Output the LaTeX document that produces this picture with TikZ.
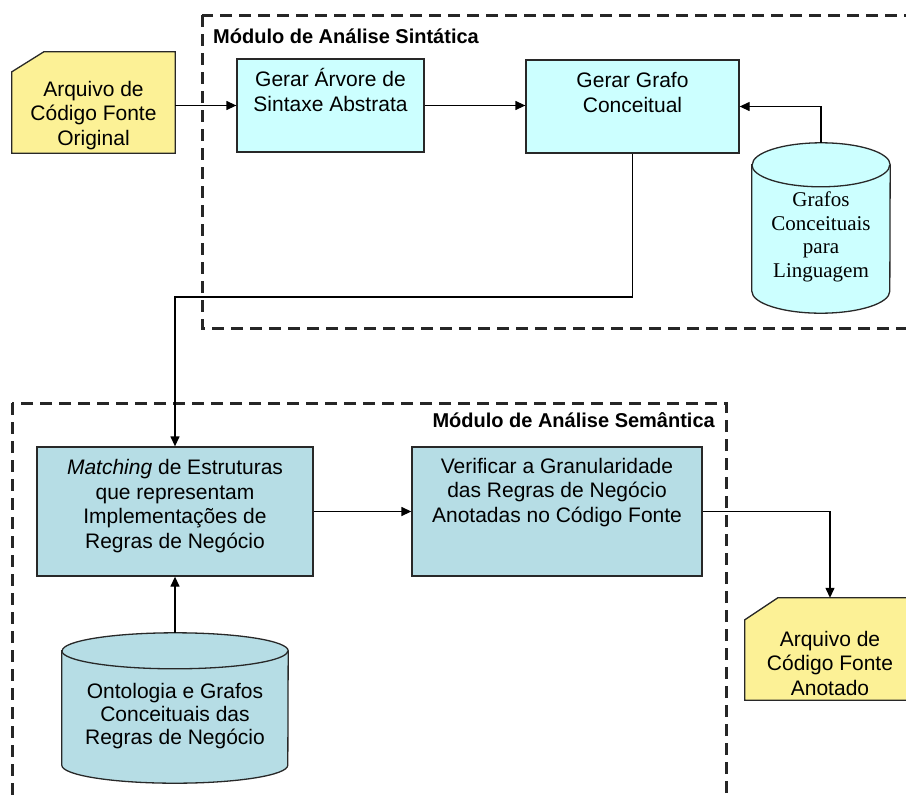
\documentclass[tikz,border=0pt]{standalone}
\usepackage{fontspec}
\setmainfont{Liberation Sans}
\newfontfamily\timesfont{Liberation Serif}
\usepackage{tikz}
\usetikzlibrary{arrows.meta}
\definecolor{procblue}{RGB}{204,255,255}
\definecolor{semblue}{RGB}{182,221,229}
\definecolor{docyellow}{RGB}{252,241,150}
\definecolor{edgegray}{RGB}{40,40,40}

\begin{document}
\begin{tikzpicture}[x=1pt,y=-1pt]
    \tikzset{
        flow/.style = {draw=black, line width=1.3pt, -{Triangle[length=10pt,width=9pt]}},
        module/.style = {draw=black!85, line width=3pt, dash pattern=on 12pt off 7pt},
        modtitle/.style = {font=\fontsize{20}{24}\selectfont\bfseries, inner sep=0pt},
        procbox/.style = {draw=edgegray, line width=1.3pt, rectangle, inner sep=0pt},
        frame/.style = {rectangle, inner sep=0pt},
        outline/.style = {draw=edgegray, line width=1.3pt},
        boxtext/.style = {anchor=base, align=center, inner sep=0pt, font=\fontsize{21}{24.5}\selectfont}
    }
    \clip (0,0) rectangle (906,796);

    % modules
    \draw[module] (202,15) rectangle (930,328);
    \node[modtitle, anchor=base west] (sintitle) at (213,43) {Módulo de Análise Sintática};
    \draw[module] (12,403) rectangle (726,830);
    \node[modtitle, anchor=base east] (semtitle) at (715,427) {Módulo de Análise Semântica};

    % source files
    \node[frame, minimum width=163pt, minimum height=101pt] (src) at (93.5,102.5) {};
    \draw[outline, fill=docyellow] ([yshift=-20pt]src.north west) -- ([xshift=32pt]src.north west)
        -- (src.north east) -- (src.south east) -- (src.south west) -- cycle;
    \node[boxtext] (srctext) at (93.5,145) {Arquivo de\\Código Fonte\\Original};

    \node[frame, minimum width=170pt, minimum height=102pt] (out) at (830,649) {};
    \draw[outline, fill=docyellow] ([yshift=-22pt]out.north west) -- ([xshift=33pt]out.north west)
        -- (out.north east) -- (out.south east) -- (out.south west) -- cycle;
    \node[boxtext] (outtext) at (830,695) {Arquivo de\\Código Fonte\\Anotado};

    % syntactic analysis
    \node[procbox, fill=procblue, minimum width=187pt, minimum height=93pt] (ast) at (330.5,105.5) {};
    \node[boxtext] (asttext) at (330.5,111) {Gerar Árvore de\\Sintaxe Abstrata};
    \node[procbox, fill=procblue, minimum width=213pt, minimum height=93pt] (gcc) at (632.5,106.5) {};
    \node[boxtext] (gcctext) at (632.5,112) {Gerar Grafo\\Conceitual};

    \node[frame, minimum width=138pt, minimum height=170pt] (lang) at (821,228) {};
    \draw[outline, fill=procblue] ([yshift=-22pt]lang.north west) -- ([yshift=22pt]lang.south west)
        arc[start angle=180, end angle=360, x radius=69pt, y radius=22pt]
        -- ([yshift=-22pt]lang.north east)
        arc[start angle=0, end angle=180, x radius=69pt, y radius=22pt] -- cycle;
    \draw[outline] ([yshift=-22pt]lang.north west)
        arc[start angle=180, end angle=360, x radius=69pt, y radius=22pt];
    \node[boxtext, font=\timesfont\fontsize{21}{23.5}\selectfont] (langtext) at (821,277)
        {Grafos\\Conceituais\\para\\Linguagem};

    % semantic analysis
    \node[procbox, fill=semblue, minimum width=276pt, minimum height=129pt] (match) at (175,511.5) {};
    \node[boxtext] (matchtext) at (175,548)
        {\textit{Matching} de Estruturas\\que representam\\Implementações de\\Regras de Negócio};
    \node[procbox, fill=semblue, minimum width=290pt, minimum height=129pt] (verif) at (557,511.5) {};
    \node[boxtext] (veriftext) at (557,522)
        {Verificar a Granularidade\\das Regras de Negócio\\Anotadas no Código Fonte};

    \node[frame, minimum width=226pt, minimum height=150pt] (onto) at (175,708) {};
    \draw[outline, fill=semblue] ([yshift=-18pt]onto.north west) -- ([yshift=18pt]onto.south west)
        arc[start angle=180, end angle=360, x radius=113pt, y radius=18pt]
        -- ([yshift=-18pt]onto.north east)
        arc[start angle=0, end angle=180, x radius=113pt, y radius=18pt] -- cycle;
    \draw[outline] ([yshift=-18pt]onto.north west)
        arc[start angle=180, end angle=360, x radius=113pt, y radius=18pt];
    \node[boxtext, font=\fontsize{21}{23}\selectfont] (ontotext) at (175,744)
        {Ontologia e Grafos\\Conceituais das\\Regras de Negócio};

    % connectors
    \coordinate (bend) at (400,297);
    \draw[flow] (src.east |- ast.west) -- (ast.west);
    \draw[flow] (ast.east) -- (ast.east -| gcc.west);
    \draw[flow] (lang.north) |- (gcc.east);
    \draw[flow] (gcc.south) |- (bend) -| (match.north);
    \draw[flow] (onto.north) -- (match.south);
    \draw[flow] (match) -- (verif);
    \draw[flow] (verif.east) -| (out.north);
\end{tikzpicture}
\end{document}
